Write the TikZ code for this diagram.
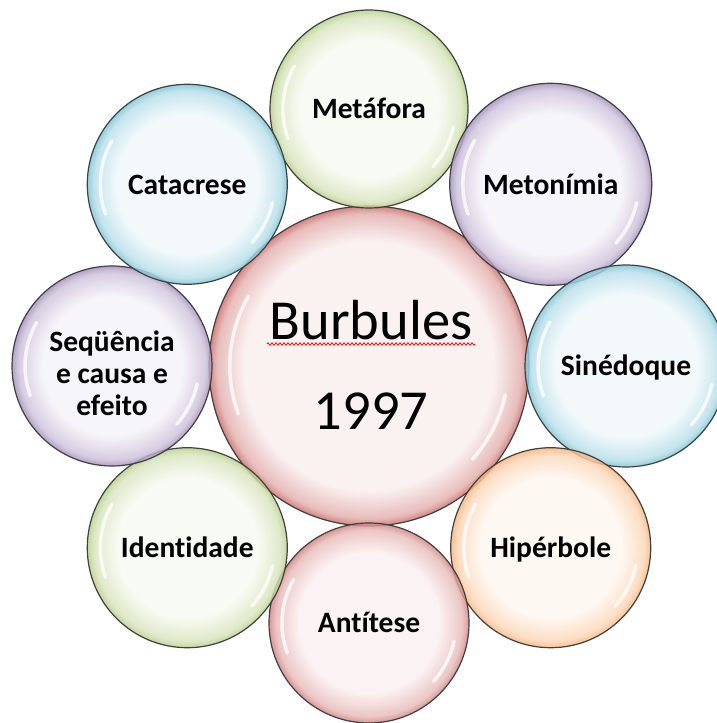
\documentclass[tikz,border=0pt]{standalone}
\usepackage{fontspec}
\setmainfont{Carlito}[Ligatures=NoCommon]
\usetikzlibrary{calc,decorations.pathmorphing}
\definecolor{bubin}{rgb}{1,1,1}
\definecolor{bubmid}{rgb}{1,1,1}
\definecolor{bubout}{rgb}{1,1,1}
\pgfdeclareradialshading[bubin,bubmid,bubout]{bubble}{\pgfpoint{0bp}{0bp}}{color(0bp)=(bubin); color(17.5bp)=(bubin); color(23.3bp)=(bubmid); color(25bp)=(bubout); color(50bp)=(bubout)}
\pgfdeclareradialshading[bubin,bubmid,bubout]{bubblebig}{\pgfpoint{0bp}{0bp}}{color(0bp)=(bubin); color(19.5bp)=(bubin); color(23.8bp)=(bubmid); color(25bp)=(bubout); color(50bp)=(bubout)}
\definecolor{cgreen}{HTML}{9BBB59}
\definecolor{cpurple}{HTML}{8064A2}
\definecolor{caqua}{HTML}{4BACC6}
\definecolor{corange}{HTML}{F79646}
\definecolor{cred}{HTML}{C0504D}
\tikzset{
  rim/.style={draw=black!75, line width=1.2pt},
  hilite/.style={draw=white, line width=3.5pt, line cap=round, opacity=0.75},
  lbl/.style={font=\bfseries\fontsize{29.5}{32}\selectfont, text=black, align=center, inner sep=0pt},
  bigtxt/.style={font=\fontsize{56.5}{60}\selectfont, text=black, inner sep=0pt},
}
\newcommand{\bubbleshape}[5]{% center, radius (number, pt), colour, opacity, shading
  \colorlet{bubin}{#3!8}\colorlet{bubmid}{#3!38}\colorlet{bubout}{#3!70}
  \shade[shading=#5, fill opacity=#4] (#1) circle (#2pt);
  \pgfmathsetmacro{\hr}{0.87*#2}
  \draw[hilite] (#1) ++(150:\hr pt) arc[start angle=150, end angle=200, radius=\hr pt];
  \draw[hilite] (#1) ++(-12:\hr pt) arc[start angle=-12, end angle=-42, radius=\hr pt];
  \draw[rim] (#1) circle (#2pt);
}
\begin{document}
\begin{tikzpicture}[x=1pt,y=1pt]
\useasboundingbox (0,0) rectangle (717,723);
\coordinate (c) at (369,357);
\coordinate (pmet) at ($(c)+(90:257pt)$);
\coordinate (pmon) at ($(c)+(45:257pt)$);
\coordinate (psin) at ($(c)+(0:257pt)$);
\coordinate (phip) at ($(c)+(-45:257pt)$);
\coordinate (pant) at ($(c)+(-90:257pt)$);
\coordinate (pide) at ($(c)+(-135:257pt)$);
\coordinate (pseq) at ($(c)+(180:257pt)$);
\coordinate (pcat) at ($(c)+(135:257pt)$);

\bubbleshape{c}{160}{cred}{1}{bubblebig}
\bubbleshape{pmet}{99}{cgreen}{0.85}{bubble}
\bubbleshape{pmon}{101}{cpurple}{0.85}{bubble}
\bubbleshape{psin}{101}{caqua}{0.85}{bubble}
\bubbleshape{phip}{100}{corange}{0.85}{bubble}
\bubbleshape{pant}{100}{cred}{0.85}{bubble}
\bubbleshape{pide}{100}{cgreen}{0.85}{bubble}
\bubbleshape{pseq}{100}{cpurple}{0.85}{bubble}
\bubbleshape{pcat}{100}{caqua}{0.85}{bubble}

\node[bigtxt, anchor=base] (burb) at (371,383) {Burbules};
\node[bigtxt, anchor=base] (year) at (371,293) {1997};
\coordinate (sqa) at (267,379);
\coordinate (sqb) at (475,379);
\draw[red, line width=0.8pt, decorate, decoration={zigzag, segment length=4pt, amplitude=1.2pt}] (sqa) -- (sqb);

\node[lbl, anchor=base] (metafora) at ($(pmet)+(0,-10)$) {Metáfora};
\node[lbl, anchor=base] (metonimia) at ($(pmon)+(0,-10)$) {Metonímia};
\node[lbl, anchor=base] (sinedoque) at ($(psin)+(0,-10)$) {Sinédoque};
\node[lbl, anchor=base] (hiperbole) at ($(phip)+(0,-10)$) {Hipérbole};
\node[lbl, anchor=base] (antitese) at ($(pant)+(0,-10)$) {Antítese};
\node[lbl, anchor=base] (identidade) at ($(pide)+(0,-10)$) {Identidade};
\node[lbl] (sequencia) at ($(pseq)+(0,-7)$) {Seqüência\\e causa e\\efeito};
\node[lbl, anchor=base] (catacrese) at ($(pcat)+(0,-10)$) {Catacrese};
\end{tikzpicture}
\end{document}
